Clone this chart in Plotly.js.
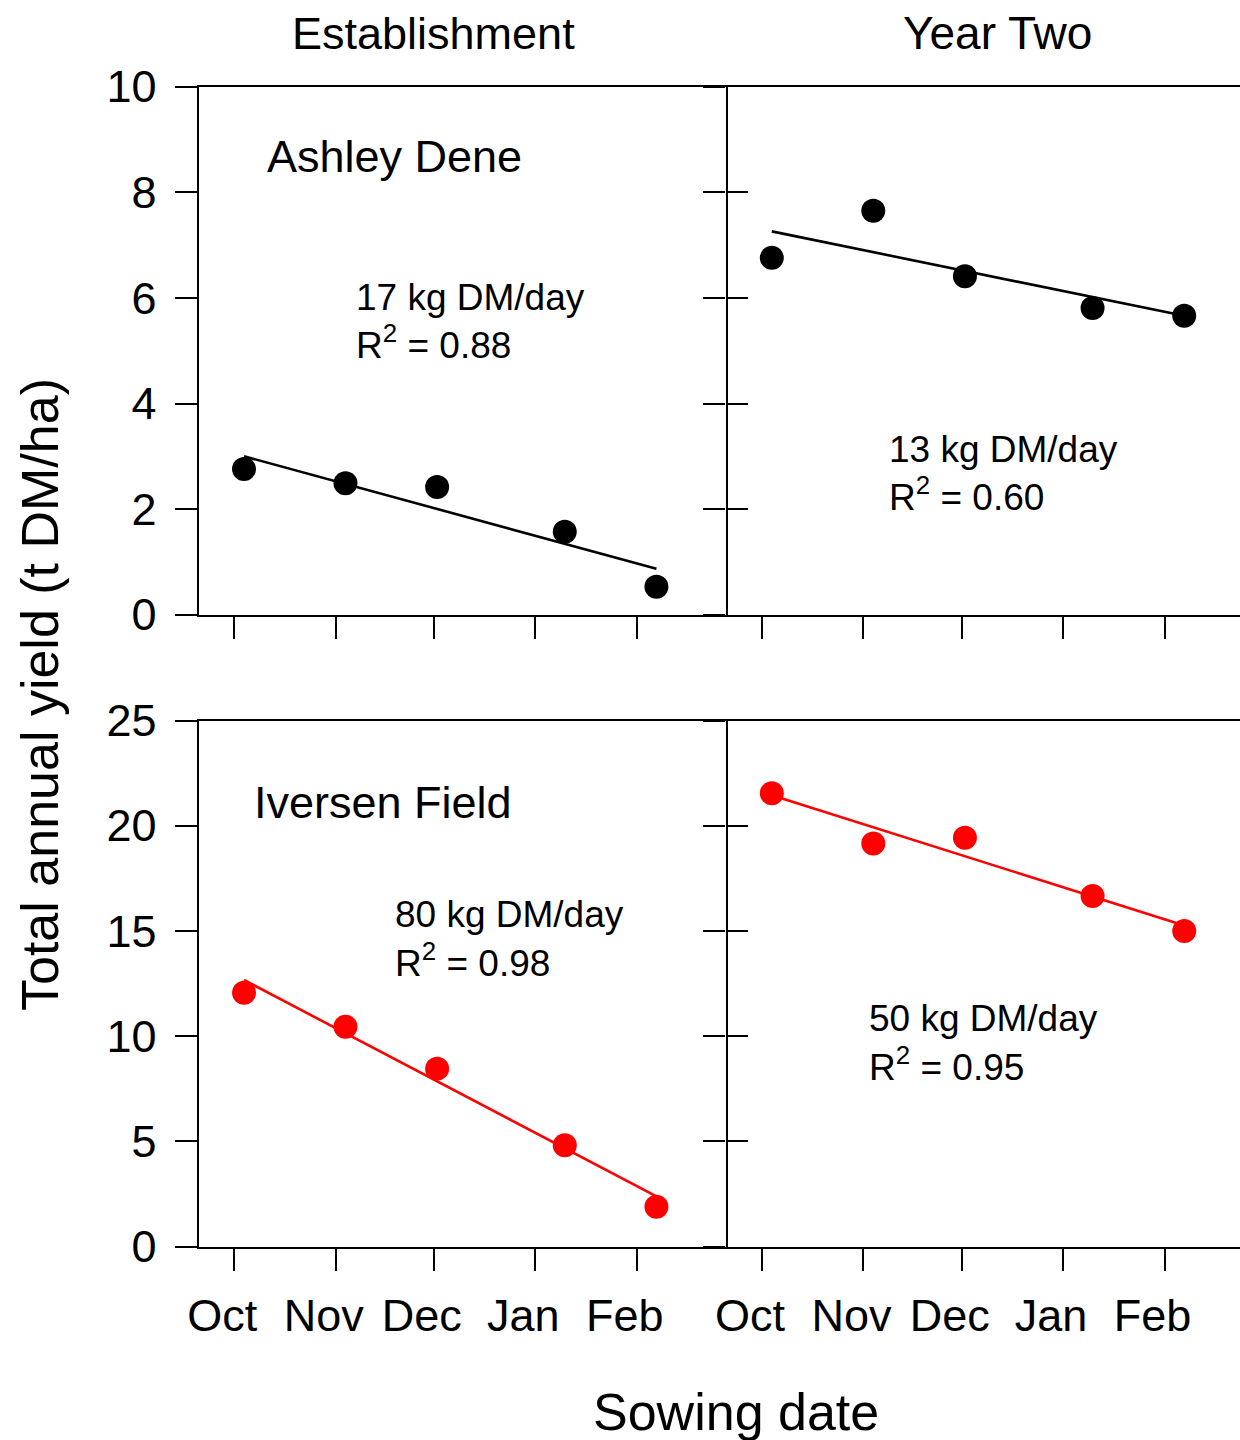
<!DOCTYPE html>
<html>
<head>
<meta charset="utf-8">
<script src="https://cdn.plot.ly/plotly-3.0.1.min.js"></script>
<style>html,body{margin:0;padding:0;background:#fff;}#chart{width:1240px;height:1440px;}</style>
</head>
<body>
<div id="chart"></div>
<script>
// ---- data ----
const sowingDates = ['2012-10-04', '2012-11-04', '2012-12-02', '2013-01-10', '2013-02-07'];
const fitDates = ['2012-10-04', '2013-02-07'];

const ashleyEstab = [2.76, 2.49, 2.42, 1.57, 0.53];
const ashleyYear2 = [6.76, 7.65, 6.41, 5.81, 5.66];
const iversenEstab = [12.07, 10.45, 8.46, 4.82, 1.90];
const iversenYear2 = [21.54, 19.16, 19.43, 16.66, 15.00];

const ashleyEstabFit = [3.00, 0.87];
const ashleyYear2Fit = [7.26, 5.66];
const iversenEstabFit = [12.67, 2.39];
const iversenYear2Fit = [21.45, 15.26];

const monthTicks = ['2012-10-01', '2012-11-01', '2012-12-01', '2013-01-01', '2013-02-01'];
const monthLabels = ['Oct', 'Nov', 'Dec', 'Jan', 'Feb'];

const columnTitles = ['Establishment', 'Year Two'];
const siteLabels = ['Ashley Dene', 'Iversen Field'];
const slopeLabels = ['17 kg DM/day', '13 kg DM/day', '80 kg DM/day', '50 kg DM/day'];
const r2Labels = ['0.88', '0.60', '0.98', '0.95'];
const xTitle = 'Sowing date';
const yTitle = 'Total annual yield (t DM/ha)';

// ---- layout ----
const W = 1240, H = 1440;
const FONT = 'Liberation Sans, Arial, Helvetica, sans-serif';
const px = v => v / W;
const py = v => 1 - v / H;

const leftDom = [px(198.6), px(725.7)];
const rightDom = [px(725.8), 1];
const topDom = [py(614.7), py(86.7)];
const botDom = [py(1246.7), py(720.5)];

const leftRange = ['2012-09-20 02:53', '2013-02-28 04:00'];
const rightRange = ['2012-09-19 22:34', '2013-02-24 01:00'];

function scatter(y, color, xa, ya) {
  return {x: sowingDates, y: y, type: 'scatter', mode: 'markers', xaxis: xa, yaxis: ya,
    marker: {size: 24, color: color, line: {width: 0}}, cliponaxis: false, showlegend: false, hoverinfo: 'skip'};
}
function fit(y, color, xa, ya) {
  return {x: fitDates, y: y, type: 'scatter', mode: 'lines', xaxis: xa, yaxis: ya,
    line: {color: color, width: 2.6}, showlegend: false, hoverinfo: 'skip'};
}
// empty carrier trace so that an overlay axis (used only for its ticks) gets drawn
function carrier(xa, ya) {
  return {x: [], y: [], type: 'scatter', mode: 'markers', xaxis: xa, yaxis: ya,
    showlegend: false, hoverinfo: 'skip'};
}

const data = [
  fit(ashleyEstabFit, '#000', 'x', 'y'), scatter(ashleyEstab, '#000', 'x', 'y'),
  fit(ashleyYear2Fit, '#000', 'x2', 'y2'), scatter(ashleyYear2, '#000', 'x2', 'y2'),
  fit(iversenEstabFit, '#ff0000', 'x3', 'y3'), scatter(iversenEstab, '#ff0000', 'x3', 'y3'),
  fit(iversenYear2Fit, '#ff0000', 'x4', 'y4'), scatter(iversenYear2, '#ff0000', 'x4', 'y4'),
  carrier('x2', 'y5'), carrier('x4', 'y6')
];

function xAxis(dom, range, anchor, labels) {
  return {domain: dom, range: range, type: 'date', anchor: anchor,
    tickmode: 'array', tickvals: monthTicks, ticktext: monthLabels,
    showticklabels: labels, ticks: 'outside', ticklen: 22, tickwidth: 2, tickcolor: '#000',
    showline: true, linewidth: 2, linecolor: '#000', mirror: true,
    showgrid: false, zeroline: false, fixedrange: true,
    tickfont: {family: FONT, size: 45, color: '#000'},
    ticklabelshift: -12, ticklabelstandoff: 6};
}
function yAxis(dom, range, dtick, anchor, labels, mirror, line, ticks) {
  return {domain: dom, range: range, dtick: dtick, tick0: 0, anchor: anchor,
    showticklabels: labels, ticks: ticks, ticklen: 22, tickwidth: 2, tickcolor: '#000',
    showline: line, linewidth: 2, linecolor: '#000', mirror: mirror,
    showgrid: false, zeroline: false, fixedrange: true,
    tickfont: {family: FONT, size: 45, color: '#000'},
    ticklabelstandoff: 9};
}

function ann(text, x, y, size, xanchor, extra) {
  return Object.assign({text: text, xref: 'paper', yref: 'paper', x: px(x), y: py(y),
    xanchor: xanchor, yanchor: 'middle', showarrow: false,
    font: {family: FONT, size: size, color: '#000'}}, extra || {});
}

const annotations = [
  ann(columnTitles[0], 433, 33, 45, 'center'),
  ann(columnTitles[1], 997, 33, 46, 'center'),
  ann(siteLabels[0], 265, 157, 45, 'left'),
  ann(siteLabels[1], 252, 802, 45, 'left'),
  ann(slopeLabels[0], 354, 298, 37, 'left'),
  ann('R<sup>2</sup> = ' + r2Labels[0], 354, 343, 37, 'left'),
  ann(slopeLabels[1], 887, 449, 37, 'left'),
  ann('R<sup>2</sup> = ' + r2Labels[1], 887, 494, 37, 'left'),
  ann(slopeLabels[2], 393, 914, 37, 'left'),
  ann('R<sup>2</sup> = ' + r2Labels[2], 393, 960, 37, 'left'),
  ann(slopeLabels[3], 867, 1018, 37, 'left'),
  ann('R<sup>2</sup> = ' + r2Labels[3], 867, 1064, 37, 'left'),
  ann(xTitle, 736, 1412, 52, 'center'),
  ann(yTitle, 40, 695, 52, 'center', {textangle: -90})
];

// divider ticks cross the line: right half from the right-panel axis (inside ticks),
// left half from an overlay axis with outside ticks
const y5 = yAxis(topDom, [0, 10], 2, 'x2', false, false, false, 'outside');
y5.overlaying = 'y2'; y5.side = 'left';
const y6 = yAxis(botDom, [0, 25], 5, 'x4', false, false, false, 'outside');
y6.overlaying = 'y4'; y6.side = 'left';

const layout = {
  width: W, height: H,
  margin: {l: 0, r: 0, t: 0, b: 0, pad: 0},
  paper_bgcolor: '#fff', plot_bgcolor: 'rgba(0,0,0,0)',
  showlegend: false,
  font: {family: FONT, color: '#000'},
  xaxis: xAxis(leftDom, leftRange, 'y', false),
  yaxis: yAxis(topDom, [0, 10], 2, 'x', true, true, true, 'outside'),
  xaxis2: xAxis(rightDom, rightRange, 'y2', false),
  yaxis2: yAxis(topDom, [0, 10], 2, 'x2', false, false, false, 'inside'),
  xaxis3: xAxis(leftDom, leftRange, 'y3', true),
  yaxis3: yAxis(botDom, [0, 25], 5, 'x3', true, true, true, 'outside'),
  xaxis4: xAxis(rightDom, rightRange, 'y4', true),
  yaxis4: yAxis(botDom, [0, 25], 5, 'x4', false, false, false, 'inside'),
  yaxis5: y5,
  yaxis6: y6,
  annotations: annotations
};

Plotly.newPlot('chart', data, layout, {displayModeBar: false, staticPlot: true});
</script>
</body>
</html>
